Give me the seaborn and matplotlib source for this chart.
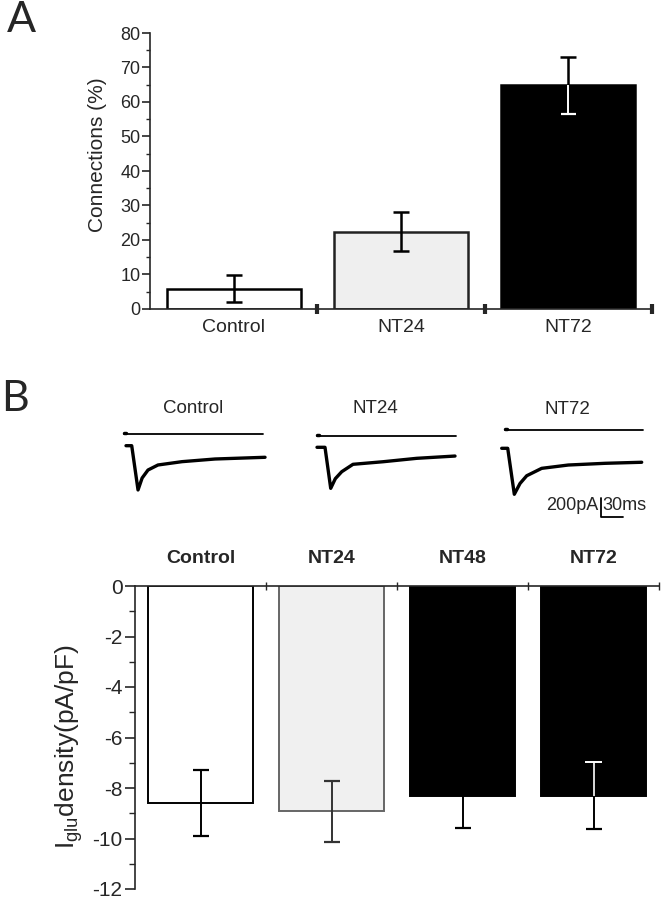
import matplotlib
matplotlib.use("Agg")
import matplotlib.pyplot as plt
import seaborn as sns

# Panel A: percentage of connected pairs
conn_groups = ['Control', 'NT24', 'NT72']
conn_mean = [5.9, 22.4, 64.8]
conn_err = [3.9, 5.6, 8.3]

# Panel B: glutamate current density
dens_groups = ['Control', 'NT24', 'NT48', 'NT72']
dens_mean = [-8.6, -8.92, -8.33, -8.3]
dens_err = [1.3, 1.2, 1.24, 1.31]

# example current traces (time in ms, current in pA)
ctrl_t = [0, 7.8, 16.4, 22, 30, 43.6, 76.4, 121.4, 189.6]
ctrl_i = [0, 0, -466, -340, -256, -203, -168, -140, -122]
nt24_t = [0, 10.9, 18.7, 25, 33.7, 49.1, 90, 136, 188.2]
nt24_i = [0, 0, -432, -330, -257, -179, -152, -116, -92]
nt72_t = [0, 8.2, 17.2, 25, 34.1, 54.5, 90.8, 140.9, 190.9]
nt72_i = [0, 0, -484, -370, -289, -211, -176, -158, -147]

# glutamate application bars (start ms, end ms, level pA)
stim_on = [-2.7, -0.4, 4.5]
stim_off = [186.8, 189.6, 192.7]
stim_level = [120, 118, 193]

scale_pA = 200
scale_ms = 30

sns.set_style('ticks')
plt.rcParams['font.family'] = ['Liberation Sans', 'DejaVu Sans']
plt.rcParams['mathtext.default'] = 'regular'
plt.rcParams['axes.unicode_minus'] = False

W, H = 665, 900
fig = plt.figure(figsize=(6.65, 9), dpi=100)


def px_axes(left, top, right, bottom):
    return fig.add_axes([left / W, 1 - bottom / H, (right - left) / W, (bottom - top) / H])


# ---------------- panel A ----------------
axA = px_axes(150, 33, 652, 309)
sns.barplot(x=conn_groups, y=conn_mean, hue=conn_groups,
            palette=['white', '#efefef', 'black'], saturation=1,
            legend=False, errorbar=None, width=0.8, ax=axA)
for p, ec in zip(axA.patches, ['black', '#222222', 'black']):
    p.set_edgecolor(ec)
    p.set_linewidth(1.8)
axA.errorbar(range(3), conn_mean, yerr=conn_err, fmt='none', ecolor='black',
             elinewidth=1.8, capsize=5.5, capthick=1.8, zorder=4)
# lower half of the NT72 error bar is drawn white on the black bar
axA.vlines(2, conn_mean[2] - conn_err[2], conn_mean[2], color='white', lw=1.4, zorder=5)
axA.hlines(conn_mean[2] - conn_err[2], 2 - 0.045, 2 + 0.045, color='white', lw=1.6, zorder=5)

axA.set_xlim(-0.5, 2.5)
axA.set_ylim(0, 80)
axA.set_yticks(range(0, 81, 10))
axA.set_yticks(range(5, 80, 10), minor=True)
axA.set_xticks([0, 1, 2])
axA.set_xticklabels(conn_groups)
axA.set_xticks([0.5, 1.5, 2.5], minor=True)
axA.tick_params(axis='y', which='major', length=6, width=1.2, labelsize=13, pad=1)
axA.tick_params(axis='y', which='minor', length=3, width=1)
axA.tick_params(axis='x', which='major', length=0, labelsize=14, pad=7)
axA.tick_params(axis='x', which='minor', length=7, width=3, direction='inout')
sns.despine(ax=axA)
for s in ['left', 'bottom']:
    axA.spines[s].set_linewidth(1.2)
axA.set_ylabel('Connections (%)', fontsize=15)
axA.yaxis.set_label_coords(-0.086, 0.56)

# ---------------- panel B traces ----------------
ms_px = 30 / 22
pA_px = 200 / 19
t_lim = (-10, 200)
i_lim = (-760, 250)
tw = (t_lim[1] - t_lim[0]) / ms_px
th = (i_lim[1] - i_lim[0]) / pA_px
starts = [(126, 445.7), (317, 447.3), (501.7, 448.3)]
traces = [(ctrl_t, ctrl_i), (nt24_t, nt24_i), (nt72_t, nt72_i)]
label_pos = [(193, 408), (375, 408), (567, 410)]
names = ['Control', 'NT24', 'NT72']
trace_axes = []
for k, (x0, y0) in enumerate(starts):
    left = x0 + t_lim[0] / ms_px
    top = y0 - i_lim[1] / pA_px
    ax = px_axes(left, top, left + tw, top + th)
    ax.set_xlim(*t_lim)
    ax.set_ylim(*i_lim)
    ax.axis('off')
    t, i = traces[k]
    sns.lineplot(x=t, y=i, ax=ax, color='black', lw=2.4, sort=False, estimator=None)
    ax.plot([stim_on[k], stim_off[k]], [stim_level[k], stim_level[k]], color='black', lw=1.3)
    ax.plot([stim_on[k], stim_on[k] + 3], [stim_level[k] + 15, stim_level[k] + 15], color='black', lw=2.5)
    fig.text(label_pos[k][0] / W, 1 - label_pos[k][1] / H, names[k], ha='center', va='center', fontsize=13.5)
    trace_axes.append(ax)

# scale bar on the NT72 trace
axs = trace_axes[2]
sb_t, sb_i = 136, -720
axs.plot([sb_t, sb_t, sb_t + scale_ms], [sb_i + scale_pA, sb_i, sb_i], color='black', lw=1.3, clip_on=False)
axs.text(sb_t - 4, sb_i + 118, f'{scale_pA}pA', ha='right', va='center', fontsize=13)
axs.text(sb_t + 1, sb_i + 118, f'{scale_ms}ms', ha='left', va='center', fontsize=13)

# ---------------- panel B bars ----------------
axB = px_axes(135, 586, 659, 889)
sns.barplot(x=dens_groups, y=dens_mean, hue=dens_groups,
            palette=['white', '#f0f0f0', 'black', 'black'], saturation=1,
            legend=False, errorbar=None, width=0.8, ax=axB)
for p, ec in zip(axB.patches, ['black', '#666666', 'black', 'black']):
    p.set_edgecolor(ec)
    p.set_linewidth(1.4)
for k, col in enumerate(['black', '#333333', 'black', 'black']):
    axB.errorbar(k, dens_mean[k], yerr=dens_err[k], fmt='none', ecolor=col,
                 elinewidth=1.4, capsize=6, capthick=1.6, zorder=4)
# upper half of the NT72 error bar is drawn white inside the bar
axB.vlines(3, dens_mean[3], dens_mean[3] + dens_err[3], color='white', lw=1.2, zorder=5)
axB.hlines(dens_mean[3] + dens_err[3], 3 - 0.065, 3 + 0.065, color='white', lw=1.4, zorder=5)

axB.set_xlim(-0.5, 3.5)
axB.set_ylim(-12, 0)
axB.set_yticks(range(-12, 1, 2))
axB.set_yticks(range(-11, 0, 2), minor=True)
axB.xaxis.tick_top()
axB.set_xticks([0, 1, 2, 3])
axB.set_xticklabels(dens_groups, fontweight='bold')
axB.set_xticks([0.5, 1.5, 2.5, 3.5], minor=True)
axB.tick_params(axis='y', which='major', length=7, width=1.2, labelsize=15, pad=2)
axB.tick_params(axis='y', which='minor', length=4, width=1)
axB.tick_params(axis='x', which='major', length=0, labelsize=14, pad=14)
axB.tick_params(axis='x', which='minor', length=6, width=1, direction='inout')
axB.spines['bottom'].set_visible(False)
axB.spines['right'].set_visible(False)
for s in ['left', 'top']:
    axB.spines[s].set_linewidth(1.2)
axB.set_ylabel(r'I$_{glu}$density(pA/pF)', fontsize=19)
axB.yaxis.set_label_coords(-0.095, 0.47)

# panel letters
fig.text(21 / W, 1 - 20 / H, 'A', fontsize=31, ha='center', va='center', family=['Lato', 'DejaVu Sans'])
fig.text(15 / W, 1 - 399 / H, 'B', fontsize=31, ha='center', va='center', family=['Lato', 'DejaVu Sans'])

fig.savefig('out.png', dpi=100)
